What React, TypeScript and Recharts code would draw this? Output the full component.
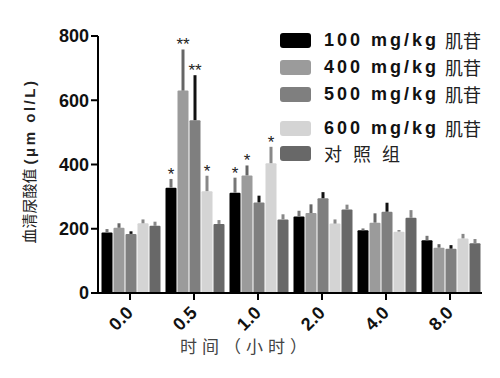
import { Bar, BarChart, ErrorBar, Label, LabelList, XAxis, YAxis } from "recharts";

// serum uric acid (µmol/L) by hour
const times = ["0.0", "0.5", "1.0", "2.0", "4.0", "8.0"];

const dose100 = [188, 328, 312, 238, 195, 164];
const dose100Err = [11, 27, 47, 18, 6, 14];
const dose100Sig = ["", "*", "*", "", "", ""];

const dose400 = [203, 630, 366, 249, 219, 141];
const dose400Err = [14, 128, 31, 27, 29, 11];
const dose400Sig = ["", "**", "*", "", "", ""];

const dose500 = [184, 538, 282, 295, 253, 138];
const dose500Err = [8, 140, 21, 19, 28, 11];
const dose500Sig = ["", "**", "", "", "", ""];

const dose600 = [217, 317, 404, 216, 191, 170];
const dose600Err = [12, 48, 51, 13, 5, 14];
const dose600Sig = ["", "*", "*", "", "", ""];

const control = [209, 215, 229, 260, 234, 155];
const controlErr = [13, 12, 16, 15, 24, 13];
const controlSig = ["", "", "", "", "", ""];

const yTicks = [0, 200, 400, 600, 800];

const SERIES = [
    { key: "d100", name: "100 mg/kg", cn: "肌苷", values: dose100, err: dose100Err, sig: dose100Sig, fill: "#000000", errColor: "#777777" },
    { key: "d400", name: "400 mg/kg", cn: "肌苷", values: dose400, err: dose400Err, sig: dose400Sig, fill: "#9b9b9b", errColor: "#666666" },
    { key: "d500", name: "500 mg/kg", cn: "肌苷", values: dose500, err: dose500Err, sig: dose500Sig, fill: "#7f7f7f", errColor: "#111111" },
    { key: "d600", name: "600 mg/kg", cn: "肌苷", values: dose600, err: dose600Err, sig: dose600Sig, fill: "#d4d4d4", errColor: "#888888" },
    { key: "ctrl", name: "", cn: "对照组", values: control, err: controlErr, sig: controlSig, fill: "#686868", errColor: "#888888" },
];

const data = times.map((t, i) => {
    const row: Record<string, unknown> = { time: t };
    for (const s of SERIES) {
        row[s.key] = s.values[i];
        row[s.key + "Err"] = [0, s.err[i]];
        row[s.key + "Sig"] = s.sig[i];
    }
    return row;
});

const LEGEND_ROWS = [40, 67, 94, 128, 153];

const latin = "'Liberation Sans', Arial, sans-serif";
const cjk = "'Noto Sans CJK SC', sans-serif";

function starLabel(s: (typeof SERIES)[number]) {
    return (props: any) => {
        const { x, y, width, height, value, index } = props;
        if (!value) return null;
        const v = s.values[index];
        const errPx = v ? (s.err[index] * Number(height)) / v : 0;
        return (
            <text
                x={Number(x) + Number(width) / 2}
                y={Number(y) - errPx + 1}
                textAnchor="middle"
                fontSize={17}
                fontFamily={latin}
                fill="#222"
            >
                {value}
            </text>
        );
    };
}

function XTick(props: any) {
    const { x, y, payload } = props;
    return (
        <g transform={`translate(${x + 4},${y + 12})`}>
            <text
                textAnchor="end"
                transform="rotate(-45)"
                fontSize={18}
                fontWeight="bold"
                fontFamily={latin}
                fill="#111"
            >
                {payload.value}
            </text>
        </g>
    );
}

export default function App() {
    return (
        <div style={{ position: "absolute", left: 0, top: 0, width: 500, height: 378, background: "#fff" }}>
            <BarChart
                width={500}
                height={378}
                data={data}
                margin={{ top: 36, right: 18, bottom: 0, left: 38 }}
                barCategoryGap={3.5}
                barGap={1}
            >
                <XAxis
                    dataKey="time"
                    tick={<XTick />}
                    tickSize={7}
                    interval={0}
                    axisLine={{ stroke: "#000", strokeWidth: 2 }}
                    tickLine={{ stroke: "#000", strokeWidth: 2 }}
                    height={85}
                >
                    <Label
                        content={() => (
                            <text
                                x={246}
                                y={353}
                                textAnchor="middle"
                                fontSize={17}
                                letterSpacing={5}
                                fontFamily={cjk}
                                fill="#444"
                            >
                                时间（小时）
                            </text>
                        )}
                    />
                </XAxis>
                <YAxis
                    domain={[0, 800]}
                    ticks={yTicks}
                    width={60}
                    tickSize={7}
                    tick={{ fontSize: 18, fontWeight: "bold", fontFamily: latin, fill: "#111" }}
                    axisLine={{ stroke: "#000", strokeWidth: 2 }}
                    tickLine={{ stroke: "#000", strokeWidth: 2 }}
                >
                    <Label
                        content={() => (
                            <text
                                transform="translate(35,161) rotate(-90)"
                                textAnchor="middle"
                                fontSize={15}
                                fill="#222"
                            >
                                <tspan fontFamily={cjk}>血清尿酸值</tspan>
                                <tspan fontFamily={latin} fontWeight="bold" dx={4} letterSpacing={2.5}>(μm ol/L)</tspan>
                            </text>
                        )}
                    />
                </YAxis>
                {SERIES.map((s) => (
                    <Bar
                        key={s.key}
                        dataKey={s.key}
                        fill={s.fill}
                        radius={[1, 1, 0, 0]}
                        isAnimationActive={false}
                    >
                        <ErrorBar
                            dataKey={s.key + "Err"}
                            width={0}
                            strokeWidth={3}
                            stroke={s.errColor}
                            direction="y"
                            isAnimationActive={false}
                        />
                        <LabelList dataKey={s.key + "Sig"} content={starLabel(s)} />
                    </Bar>
                ))}
            </BarChart>
            <div style={{ position: "absolute", left: 0, top: 0, width: 500, height: 378, pointerEvents: "none" }}>
                {SERIES.map((s, i) => (
                    <div
                        key={s.key}
                        style={{
                            position: "absolute",
                            left: 280,
                            top: LEGEND_ROWS[i] - 12,
                            height: 24,
                            display: "flex",
                            alignItems: "center",
                            whiteSpace: "nowrap",
                        }}
                    >
                        <div style={{ width: 31, height: 15, background: s.fill, borderRadius: 3, marginRight: 13 }} />
                        {s.name && (
                            <span style={{ fontFamily: latin, fontWeight: "bold", fontSize: 18, letterSpacing: 3, color: "#111" }}>
                                {s.name}
                            </span>
                        )}
                        <span
                            style={{
                                fontFamily: cjk,
                                fontSize: 18,
                                color: "#222",
                                marginLeft: s.name ? 6 : 0,
                                letterSpacing: s.name ? 0 : 11,
                            }}
                        >
                            {s.cn}
                        </span>
                    </div>
                ))}
            </div>
        </div>
    );
}
